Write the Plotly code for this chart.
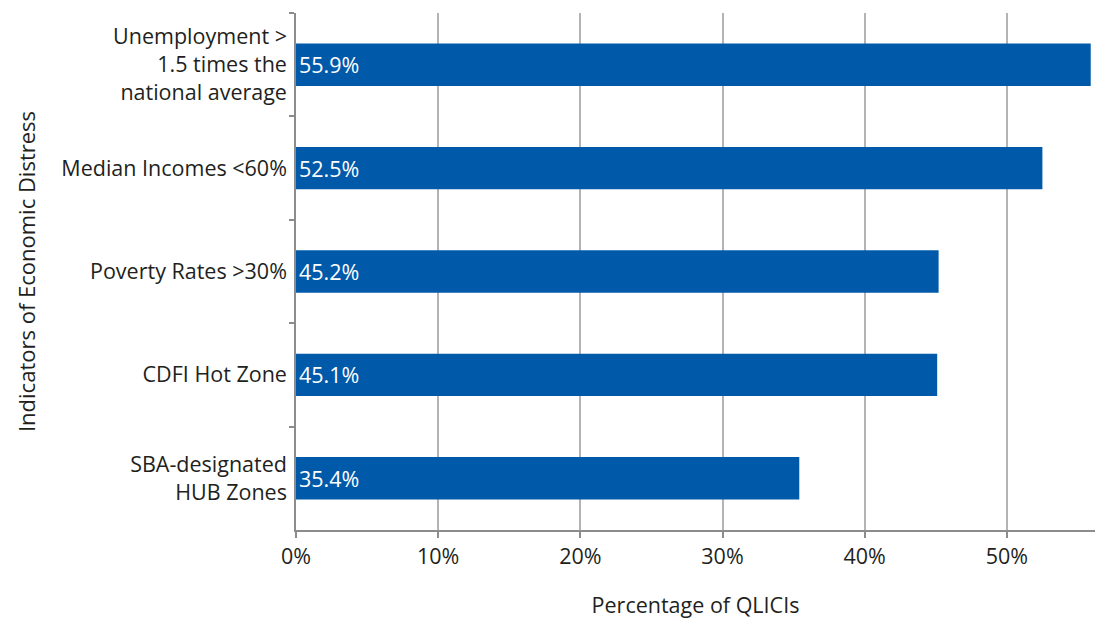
import plotly.graph_objects as go

categories = [
    "Unemployment ><br>1.5 times the<br>national average",
    "Median Incomes <60%",
    "Poverty Rates >30%",
    "CDFI Hot Zone",
    "SBA-designated<br>HUB Zones",
]
values = [55.9, 52.5, 45.2, 45.1, 35.4]
x_ticks = [0, 10, 20, 30, 40, 50]
x_tick_labels = ["0%", "10%", "20%", "30%", "40%", "50%"]

FONT = "Open Sans, Noto Sans, sans-serif"
SIZE = 21.5
BAR = "#005AA9"
AXIS = "#8c8c8c"
GRID = "#b4b4b4"

fig = go.Figure(
    go.Bar(
        y=categories,
        x=values,
        orientation="h",
        marker=dict(color=BAR, line=dict(width=0)),
        text=[f"{v:.1f}%" for v in values],
        textposition="inside",
        insidetextanchor="start",
        textfont=dict(color="white", size=SIZE, family=FONT),
        width=0.41,
        hoverinfo="skip",
    )
)

fig.update_layout(
    width=1095,
    height=619,
    margin=dict(l=296, r=0, t=13, b=89),
    paper_bgcolor="white",
    plot_bgcolor="white",
    font=dict(family=FONT, size=SIZE, color="#231f20"),
    showlegend=False,
    uniformtext=dict(mode=False),
)

fig.update_xaxes(
    range=[0, 56.2],
    tickvals=x_ticks,
    ticktext=x_tick_labels,
    showgrid=True,
    gridcolor=GRID,
    gridwidth=1.5,
    showline=True,
    linecolor=AXIS,
    linewidth=1.5,
    ticks="outside",
    ticklen=6,
    tickcolor=AXIS,
    tickwidth=1.5,
    zeroline=False,
    tickfont=dict(size=SIZE),
    title=dict(text="Percentage of QLICIs", font=dict(size=SIZE), standoff=32),
)

fig.update_yaxes(
    autorange="reversed",
    showline=True,
    linecolor=AXIS,
    linewidth=1.5,
    ticks="outside",
    tickson="boundaries",
    ticklen=5,
    tickcolor=AXIS,
    tickwidth=1.5,
    ticklabelstandoff=3,
    showgrid=False,
    tickfont=dict(size=SIZE),
    title=dict(text="Indicators of Economic Distress", font=dict(size=22), standoff=20),
)

fig.write_html("out.html")
